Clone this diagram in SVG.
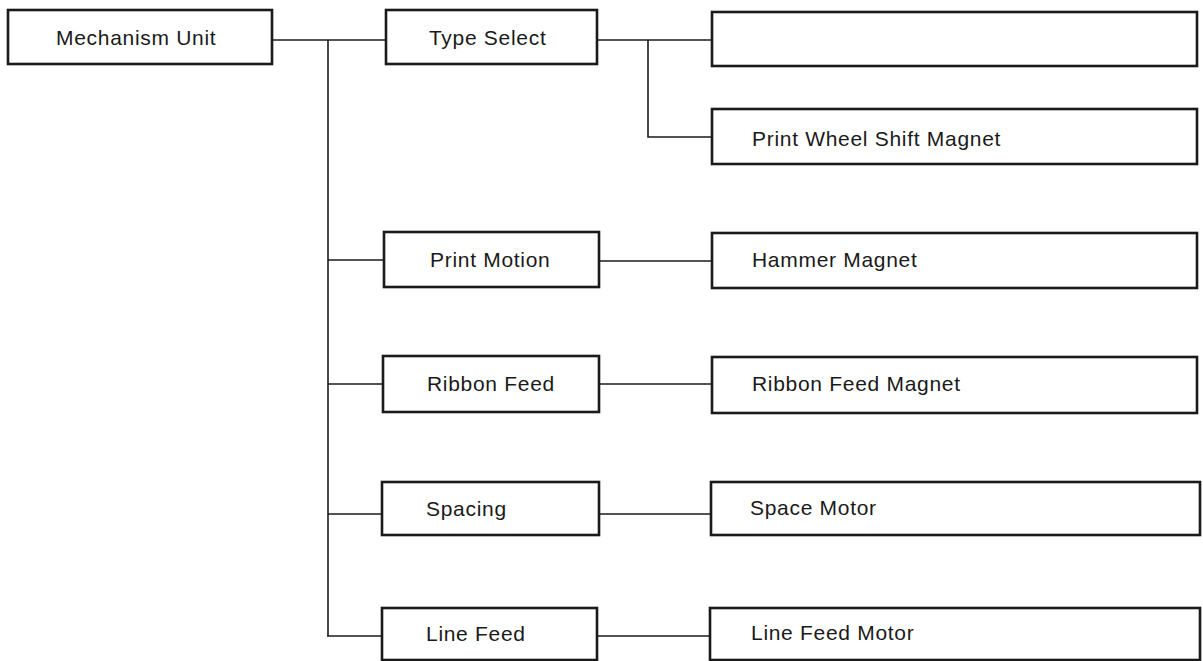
<svg xmlns="http://www.w3.org/2000/svg" width="1203" height="661" viewBox="0 0 1203 661">
<style>
.box{fill:#fff;stroke:#1a1a1a;stroke-width:2.6}
.c{fill:none;stroke:#1a1a1a;stroke-width:1.6}
text{font-family:"Liberation Sans",Arial,sans-serif;font-size:21px;fill:#1a1a1a;letter-spacing:0.7px}
</style>
<rect width="1203" height="661" fill="#fff"/>
<g id="connectors">
<path class="c" d="M272 40 H386"/>
<path class="c" d="M328 40 V636"/>
<path class="c" d="M328 260 H384"/>
<path class="c" d="M328 384 H383"/>
<path class="c" d="M328 514 H382"/>
<path class="c" d="M327 636 H382"/>
<path class="c" d="M597 40 H712"/>
<path class="c" d="M648 40 V137 H712"/>
<path class="c" d="M599 261 H712"/>
<path class="c" d="M599 384 H712"/>
<path class="c" d="M599 514 H711"/>
<path class="c" d="M597 636 H710"/>
</g>
<g id="mechanism-unit"><rect class="box" x="8" y="10" width="264" height="54"/><text x="56" y="45">Mechanism Unit</text></g>
<g id="type-select"><rect class="box" x="386" y="10" width="211" height="54"/><text x="429" y="45">Type Select</text></g>
<g id="empty-box"><rect class="box" x="712" y="12" width="485" height="54"/></g>
<g id="print-wheel-shift-magnet"><rect class="box" x="712" y="109" width="485" height="55"/><text x="752" y="146">Print Wheel Shift Magnet</text></g>
<g id="print-motion"><rect class="box" x="384" y="232" width="215" height="55"/><text x="430" y="267">Print Motion</text></g>
<g id="hammer-magnet"><rect class="box" x="712" y="233" width="485" height="55"/><text x="752" y="267">Hammer Magnet</text></g>
<g id="ribbon-feed"><rect class="box" x="383" y="356" width="216" height="56"/><text x="427" y="391">Ribbon Feed</text></g>
<g id="ribbon-feed-magnet"><rect class="box" x="712" y="357" width="485" height="56"/><text x="752" y="391">Ribbon Feed Magnet</text></g>
<g id="spacing"><rect class="box" x="382" y="482" width="217" height="53"/><text x="426" y="516">Spacing</text></g>
<g id="space-motor"><rect class="box" x="711" y="482" width="489" height="53"/><text x="750" y="515">Space Motor</text></g>
<g id="line-feed"><rect class="box" x="382" y="608" width="215" height="52"/><text x="426" y="641">Line Feed</text></g>
<g id="line-feed-motor"><rect class="box" x="710" y="608" width="490" height="52"/><text x="751" y="640">Line Feed Motor</text></g>
</svg>
